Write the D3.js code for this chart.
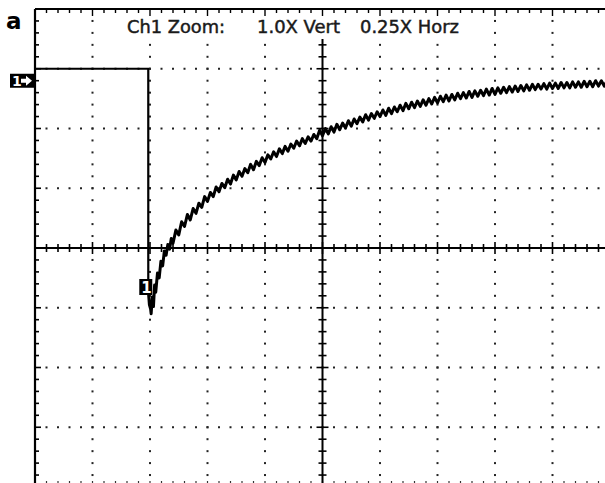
<!DOCTYPE html>
<html>
<head>
<meta charset="utf-8">
<script src="https://cdn.jsdelivr.net/npm/d3@7"></script>
<style>
	body { margin: 0; background: #fff; }
	svg { display: block; }
	text { font-family: "DejaVu Sans", sans-serif; }
</style>
</head>
<body>
<div id="chart"></div>
<script>

// screen graticule, in divisions
var xDivs = [0, 1, 2, 3, 4, 5, 6, 7, 8, 9, 10]
var yDivs = [-4, -3, -2, -1, 0, 1, 2, 3, 4]
var minorPerDiv = 5

var panelLabel = "a"
var headerTexts = ["Ch1 Zoom:", "1.0X Vert", "0.25X Horz"]
var channelLabel = "1"

// ch1 trace: [time div, volt div]
var traceHigh = 3.0
var dropAt = 1.97
var trace = [
	[0.00, 3.00], [1.97, 3.00], [1.97, -0.70], [1.99, -0.95], [2.01, -1.02], [2.02, -1.10],
	[2.04, -0.82], [2.06, -0.98], [2.08, -0.62], [2.10, -0.74], [2.13, -0.42], [2.16, -0.50],
	[2.19, -0.22], [2.22, -0.30], [2.25, -0.05], [2.28, -0.12], [2.31, 0.06], [2.34, -0.02],
	[2.37, 0.16], [2.40, 0.08], [2.45, 0.30], [2.50, 0.22], [2.55, 0.44], [2.60, 0.36],
	[2.65, 0.56], [2.70, 0.47], [2.75, 0.66], [2.80, 0.58], [2.85, 0.75], [2.90, 0.68],
	[2.95, 0.86], [3.00, 0.78], [3.05, 0.93], [3.10, 0.86], [3.15, 1.02], [3.20, 0.94],
	[3.25, 1.08], [3.30, 1.01], [3.35, 1.15], [3.40, 1.07], [3.45, 1.22], [3.50, 1.14],
	[3.55, 1.28], [3.60, 1.20], [3.65, 1.33], [3.70, 1.26], [3.75, 1.40], [3.80, 1.31],
	[3.85, 1.45], [3.90, 1.38], [3.95, 1.51], [4.00, 1.43], [4.05, 1.56], [4.10, 1.49],
	[4.15, 1.61], [4.20, 1.53], [4.25, 1.66], [4.30, 1.58], [4.35, 1.70], [4.40, 1.62],
	[4.45, 1.74], [4.50, 1.67], [4.55, 1.79], [4.60, 1.71], [4.65, 1.83], [4.70, 1.75],
	[4.75, 1.86], [4.80, 1.79], [4.85, 1.90], [4.90, 1.83], [4.95, 1.97], [5.00, 1.88],
	[5.05, 2.00], [5.10, 1.91], [5.15, 2.03], [5.20, 1.94], [5.25, 2.07], [5.30, 1.98],
	[5.35, 2.09], [5.40, 2.01], [5.45, 2.13], [5.50, 2.04], [5.55, 2.16], [5.60, 2.08],
	[5.65, 2.19], [5.70, 2.11], [5.75, 2.23], [5.80, 2.14], [5.85, 2.25], [5.90, 2.17],
	[5.95, 2.28], [6.00, 2.20], [6.05, 2.31], [6.10, 2.22], [6.15, 2.34], [6.20, 2.25],
	[6.25, 2.36], [6.30, 2.28], [6.35, 2.39], [6.40, 2.30], [6.45, 2.42], [6.50, 2.33],
	[6.55, 2.44], [6.60, 2.35], [6.65, 2.46], [6.70, 2.37], [6.75, 2.48], [6.80, 2.39],
	[6.85, 2.50], [6.90, 2.41], [6.95, 2.52], [7.00, 2.43], [7.05, 2.54], [7.10, 2.45],
	[7.15, 2.56], [7.20, 2.46], [7.25, 2.57], [7.30, 2.48], [7.35, 2.59], [7.40, 2.50],
	[7.45, 2.60], [7.50, 2.51], [7.55, 2.62], [7.60, 2.52], [7.65, 2.63], [7.70, 2.54],
	[7.75, 2.64], [7.80, 2.55], [7.85, 2.66], [7.90, 2.56], [7.95, 2.67], [8.00, 2.57],
	[8.05, 2.68], [8.10, 2.59], [8.15, 2.69], [8.20, 2.60], [8.25, 2.70], [8.30, 2.61],
	[8.35, 2.71], [8.40, 2.62], [8.45, 2.72], [8.50, 2.63], [8.55, 2.73], [8.60, 2.64],
	[8.65, 2.74], [8.70, 2.65], [8.75, 2.74], [8.80, 2.66], [8.85, 2.75], [8.90, 2.66],
	[8.95, 2.76], [9.00, 2.67], [9.05, 2.76], [9.10, 2.67], [9.15, 2.77], [9.20, 2.68],
	[9.25, 2.77], [9.30, 2.68], [9.35, 2.78], [9.40, 2.69], [9.45, 2.78], [9.50, 2.69],
	[9.55, 2.79], [9.60, 2.70], [9.65, 2.79], [9.70, 2.70], [9.75, 2.80], [9.80, 2.71],
	[9.85, 2.80], [9.90, 2.71], [9.95, 2.80]
]


var width = 605
var height = 483

var svg = d3.select("#chart").append("svg")
	.attr("width", width)
	.attr("height", height)

var xScale = d3.scaleLinear().domain([0, 10]).range([35, 610])
var yScale = d3.scaleLinear().domain([-4, 4]).range([487, 9])

// minor positions along each axis
var xMinor = d3.range(0, 10 * minorPerDiv + 1).map(function(i){ return i / minorPerDiv })
var yMinor = d3.range(-4 * minorPerDiv, 4 * minorPerDiv + 1).map(function(i){ return i / minorPerDiv })

var grid = svg.append("g")

// dotted vertical division lines
xDivs.filter(function(d){ return d > 0 && d < 10 && d != 5 }).forEach(function(xd){
	grid.selectAll(null)
		.data(yMinor.filter(function(v){ return v < 3.9 }))
		.enter()
		.append("rect")
		.attr("x", xScale(xd) - 1)
		.attr("y", function(v){ return yScale(v) - 1 })
		.attr("width", 2)
		.attr("height", 2)
		.attr("fill", "#222")
})

// dotted horizontal division lines
yDivs.filter(function(d){ return d > -4 && d < 4 && d != 0 }).forEach(function(yd){
	grid.selectAll(null)
		.data(xMinor.filter(function(v){ return v > 0.1 }))
		.enter()
		.append("rect")
		.attr("x", function(v){ return xScale(v) - 1 })
		.attr("y", yScale(yd) - 1)
		.attr("width", 2)
		.attr("height", 2)
		.attr("fill", "#222")
})

// bottom edge ticks
grid.selectAll(null)
	.data(xMinor.filter(function(v){ return v > 0.1 }))
	.enter()
	.append("line")
	.attr("x1", function(v){ return xScale(v) })
	.attr("x2", function(v){ return xScale(v) })
	.attr("y1", yScale(-4) - 6)
	.attr("y2", yScale(-4))
	.attr("stroke", "#333")
	.attr("stroke-width", 1.2)

// center horizontal axis with minor crossing ticks
grid.append("line")
	.attr("x1", xScale(0)).attr("x2", xScale(10))
	.attr("y1", yScale(0)).attr("y2", yScale(0))
	.attr("stroke", "#000").attr("stroke-width", 2)
grid.selectAll(null)
	.data(xMinor.filter(function(v){ return v > 0.1 }))
	.enter()
	.append("line")
	.attr("x1", function(v){ return xScale(v) })
	.attr("x2", function(v){ return xScale(v) })
	.attr("y1", function(v){ return yScale(0) - (v % 1 == 0 ? 6 : 4) })
	.attr("y2", function(v){ return yScale(0) + (v % 1 == 0 ? 6 : 4) })
	.attr("stroke", "#000").attr("stroke-width", 1.6)

// center vertical axis with minor crossing ticks
var topClear = 3.55
grid.append("line")
	.attr("x1", xScale(5)).attr("x2", xScale(5))
	.attr("y1", yScale(topClear)).attr("y2", yScale(-4))
	.attr("stroke", "#000").attr("stroke-width", 2)
grid.selectAll(null)
	.data(yMinor.filter(function(v){ return v <= topClear && v > -3.95 }))
	.enter()
	.append("line")
	.attr("x1", function(v){ return xScale(5) - (v % 1 == 0 ? 6 : 4) })
	.attr("x2", function(v){ return xScale(5) + (v % 1 == 0 ? 6 : 4) })
	.attr("y1", function(v){ return yScale(v) })
	.attr("y2", function(v){ return yScale(v) })
	.attr("stroke", "#000").attr("stroke-width", 1.6)

// left border
grid.append("line")
	.attr("x1", xScale(0)).attr("x2", xScale(0))
	.attr("y1", yScale(4)).attr("y2", height)
	.attr("stroke", "#000").attr("stroke-width", 2.2)
grid.selectAll(null)
	.data(yMinor)
	.enter()
	.append("line")
	.attr("x1", xScale(0))
	.attr("x2", function(v){ return xScale(0) + (v % 1 == 0 ? 6 : 4) })
	.attr("y1", function(v){ return yScale(v) })
	.attr("y2", function(v){ return yScale(v) })
	.attr("stroke", "#000").attr("stroke-width", 1.6)

// top border
grid.append("line")
	.attr("x1", xScale(0)).attr("x2", width)
	.attr("y1", yScale(4)).attr("y2", yScale(4))
	.attr("stroke", "#000").attr("stroke-width", 2)
grid.selectAll(null)
	.data(xMinor)
	.enter()
	.append("line")
	.attr("x1", function(v){ return xScale(v) })
	.attr("x2", function(v){ return xScale(v) })
	.attr("y1", yScale(4))
	.attr("y2", function(v){ return yScale(4) + (v % 1 == 0 ? 7 : 4) })
	.attr("stroke", "#000").attr("stroke-width", 1.4)


// header, on a blank strip so the graticule dots don't run through it
svg.append("rect")
	.attr("x", 118).attr("y", 17)
	.attr("width", 350).attr("height", 22)
	.attr("fill", "#fff")

var headerX = [127, 257, 360]
var headerW = [98, 83, 99]
svg.selectAll(".hdr")
	.data(headerTexts)
	.enter()
	.append("text")
	.attr("class", "hdr")
	.attr("x", function(d, i){ return headerX[i] })
	.attr("y", 33)
	.attr("textLength", function(d, i){ return headerW[i] })
	.attr("lengthAdjust", "spacingAndGlyphs")
	.attr("font-size", 17)
	.attr("fill", "#1a1a1a")
	.attr("stroke", "#1a1a1a")
	.attr("stroke-width", 0.45)
	.text(function(d){ return d })

svg.append("text")
	.attr("x", 6)
	.attr("y", 29)
	.attr("font-size", 23)
	.attr("font-weight", "bold")
	.attr("fill", "#000")
	.text(panelLabel)


// trace
var line = d3.line()
	.x(function(d){ return xScale(d[0]) })
	.y(function(d){ return yScale(d[1]) })

svg.append("path")
	.datum(trace.slice(0, 3))
	.attr("d", line)
	.attr("fill", "none")
	.attr("stroke", "#000")
	.attr("stroke-width", 2.2)

svg.append("path")
	.datum(trace.slice(2))
	.attr("d", line)
	.attr("fill", "none")
	.attr("stroke", "#000")
	.attr("stroke-width", 3)
	.attr("stroke-linejoin", "round")


// channel 1 marker on the left edge
var mk = svg.append("g")
	.attr("transform", "translate(" + (xScale(0) - 25) + "," + (yScale(traceHigh) + 5) + ")")
mk.append("rect")
	.attr("width", 24).attr("height", 14)
	.attr("fill", "#000")
mk.append("text")
	.attr("x", 2).attr("y", 12)
	.attr("font-size", 14).attr("font-weight", "bold")
	.attr("fill", "#fff")
	.text(channelLabel)
mk.append("path")
	.attr("d", "M11,5 L16,5 L16,2 L22,7 L16,12 L16,9 L11,9 Z")
	.attr("fill", "#fff")

// trigger marker near the step
var tk = svg.append("g")
	.attr("transform", "translate(" + (xScale(dropAt) - 9) + "," + (yScale(0) + 31) + ")")
tk.append("rect")
	.attr("width", 13).attr("height", 16)
	.attr("fill", "#000")
tk.append("text")
	.attr("x", 2).attr("y", 14)
	.attr("font-size", 15).attr("font-weight", "bold")
	.attr("fill", "#fff")
	.text(channelLabel)

</script>
</body>
</html>
